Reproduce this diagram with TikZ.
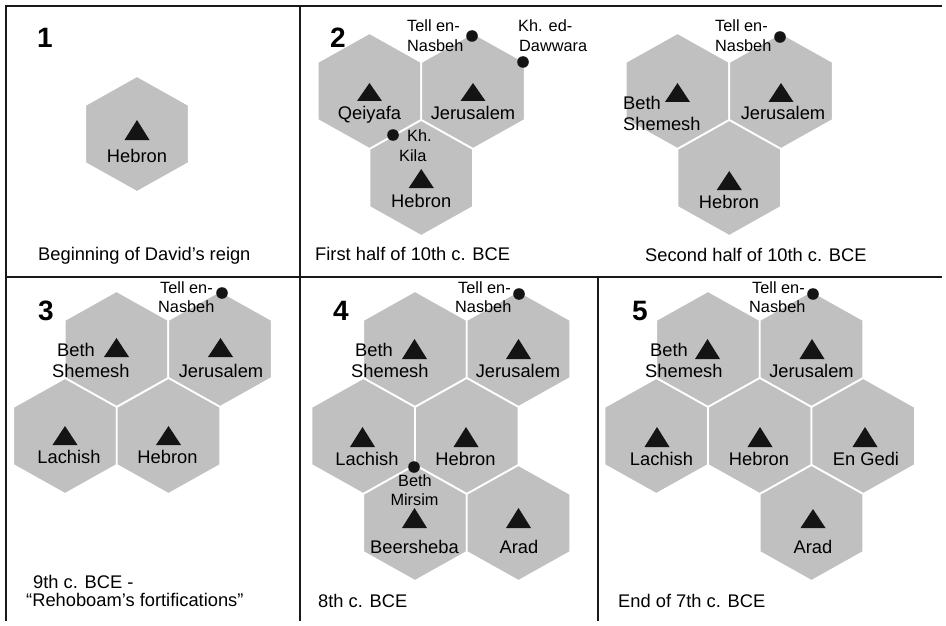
\documentclass[tikz,border=0pt]{standalone}
\usepackage{fontspec}
\setmainfont{Liberation Sans}
\definecolor{hexgray}{RGB}{192,192,192}
\definecolor{framecol}{RGB}{25,25,25}
\tikzset{
  hexcell/.style={fill=hexgray, draw=white, line width=1.8pt, line join=miter},
  trimark/.style={fill=black!92},
  dotmark/.style={fill=black!92},
  city/.style={font=\fontsize{18.3}{20}\selectfont, inner sep=0pt, anchor=base, text=black},
  cityw/.style={city, anchor=base west},
  site/.style={font=\fontsize{16.3}{18}\selectfont, inner sep=0pt, anchor=base west, text=black},
  sitec/.style={site, anchor=base},
  captxt/.style={font=\fontsize{18.3}{20}\selectfont, inner sep=0pt, anchor=base west, text=black},
  panelno/.style={font=\fontsize{28}{30}\selectfont\bfseries, inner sep=0pt, anchor=base},
  frameline/.style={draw=framecol, line width=1.4pt},
}
\newcommand\hexat[2]{\path[hexcell, shift={(#1,#2)}] (0,-58) -- (51.75,-29) -- (51.75,29) -- (0,58) -- (-51.75,29) -- (-51.75,-29) -- cycle;}
\newcommand\triat[3]{\fill[trimark] (#1-12.5,#3) -- (#1+12.5,#3) -- (#1,#2) -- cycle;}
\newcommand\dotat[2]{\fill[dotmark] (#1,#2) circle (5.8pt);}
\begin{document}
\begin{tikzpicture}[x=1pt,y=-1pt]
\useasboundingbox (0,0) rectangle (946,626);
% frame
\draw[frameline] (6,621) -- (6,6) -- (942,6);
\draw[frameline] (6,277) -- (942,277);
\draw[frameline] (300,6) -- (300,621);
\draw[frameline, line width=2.6pt] (598,277) -- (598,621);

% ---------- Panel 1
\hexat{137}{134}
\triat{137}{120}{140}
\node[panelno] (n1) at (45,48) {1};
\node[city] (p1heb) at (137,162) {Hebron};
\node[captxt] (c1) at (38,260) {Beginning of David’s reign};

% ---------- Panel 2
\hexat{369.5}{91} \hexat{473}{91} \hexat{421.25}{178}
\triat{369.5}{83}{101} \triat{473}{83}{101} \triat{421.25}{169}{188}
\dotat{472}{36} \dotat{523}{62} \dotat{393}{135}
\node[panelno] (n2) at (338,48) {2};
\node[city] (p2qei) at (369.5,119) {Qeiyafa};
\node[city] (p2jer) at (473,119) {Jerusalem};
\node[city] (p2heb) at (421.25,207) {Hebron};
\node[site] (p2tell1) at (407,32) {Tell en-};
\node[site] (p2tell2) at (407,52) {Nasbeh};
\node[site] (p2daw1) at (518,32) {Kh. ed-};
\node[site] (p2daw2) at (519,52) {Dawwara};
\node[site] (p2kila1) at (407,142) {Kh.};
\node[site] (p2kila2) at (399,161) {Kila};
\node[captxt] (c2) at (315,260) {First half of 10th c. BCE};

% ---------- Panel 2b
\hexat{677.5}{91} \hexat{781}{91} \hexat{729.25}{178}
\triat{677.5}{83}{102} \triat{781}{83}{102} \triat{729.25}{171}{190}
\dotat{780}{37}
\node[cityw] (q2bs1) at (623,110) {Beth};
\node[cityw] (q2bs2) at (623,131) {Shemesh};
\node[city] (q2jer) at (783,120) {Jerusalem};
\node[city] (q2heb) at (729,208) {Hebron};
\node[site] (q2tell1) at (715,32) {Tell en-};
\node[site] (q2tell2) at (715,52) {Nasbeh};
\node[captxt] (c2b) at (645,261) {Second half of 10th c. BCE};

% ---------- Panel 3
\hexat{116.5}{349} \hexat{220}{349} \hexat{65}{436} \hexat{168.5}{436}
\triat{116.5}{338}{357} \triat{220.5}{338}{357} \triat{65}{426}{445} \triat{168.5}{426}{445}
\dotat{222}{293}
\node[panelno] (n3) at (46,320) {3};
\node[cityw] (p3bs1) at (57,356) {Beth};
\node[cityw] (p3bs2) at (52,377) {Shemesh};
\node[city] (p3jer) at (221,377) {Jerusalem};
\node[city] (p3lac) at (69,463) {Lachish};
\node[city] (p3heb) at (167.5,463) {Hebron};
\node[site] (p3tell1) at (160,293) {Tell en-};
\node[site] (p3tell2) at (158,312) {Nasbeh};
\node[captxt] (c3a) at (33,588) {9th c. BCE -};
\node[captxt] (c3b) at (26,606) {“Rehoboam’s fortifications”};

% ---------- Panel 4
\hexat{415}{349} \hexat{518.5}{349} \hexat{363.25}{436} \hexat{466.75}{436} \hexat{415}{523} \hexat{518.5}{523}
\triat{414.5}{339}{359} \triat{518.5}{339}{359} \triat{362.5}{427}{447} \triat{466}{427}{447} \triat{414.5}{508}{528} \triat{518.5}{508}{528}
\dotat{519}{294} \dotat{414}{467}
\node[panelno] (n4) at (341,320) {4};
\node[cityw] (p4bs1) at (355,356) {Beth};
\node[cityw] (p4bs2) at (351,377) {Shemesh};
\node[city] (p4jer) at (518,377) {Jerusalem};
\node[city] (p4lac) at (367,465) {Lachish};
\node[city] (p4heb) at (465.5,465) {Hebron};
\node[city] (p4bee) at (414.5,553) {Beersheba};
\node[city] (p4ara) at (519,553) {Arad};
\node[sitec] (p4bm1) at (415,486) {Beth};
\node[sitec] (p4bm2) at (414.5,505) {Mirsim};
\node[site] (p4tell1) at (458,293) {Tell en-};
\node[site] (p4tell2) at (455,312) {Nasbeh};
\node[captxt] (c4) at (318,607) {8th c. BCE};

% ---------- Panel 5
\hexat{708}{349} \hexat{811.5}{349} \hexat{656.25}{436} \hexat{759.75}{436} \hexat{863.25}{436} \hexat{811.5}{523}
\triat{707.5}{339}{359} \triat{812}{339}{359} \triat{657}{427}{447} \triat{760}{427}{447} \triat{865}{427}{447} \triat{813}{509}{528}
\dotat{813}{294}
\node[panelno] (n5) at (640,320) {5};
\node[cityw] (p5bs1) at (650,356) {Beth};
\node[cityw] (p5bs2) at (645,377) {Shemesh};
\node[city] (p5jer) at (811.5,377) {Jerusalem};
\node[city] (p5lac) at (661.5,465) {Lachish};
\node[city] (p5heb) at (759,465) {Hebron};
\node[city] (p5eng) at (866,465) {En Gedi};
\node[city] (p5ara) at (813,553) {Arad};
\node[site] (p5tell1) at (752,293) {Tell en-};
\node[site] (p5tell2) at (749,312) {Nasbeh};
\node[captxt] (c5) at (618,607) {End of 7th c. BCE};
\end{tikzpicture}
\end{document}
